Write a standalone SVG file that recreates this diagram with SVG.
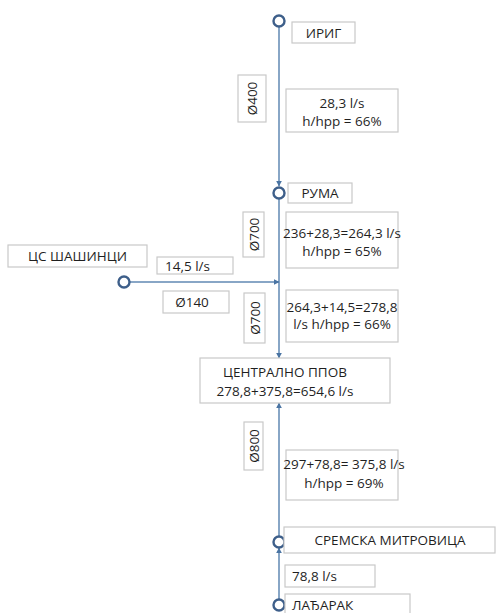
<svg xmlns="http://www.w3.org/2000/svg" width="496" height="613" viewBox="0 0 496 613">
<defs>
<marker id="arr" viewBox="0 0 10 10" refX="9" refY="5" markerWidth="6" markerHeight="6" markerUnits="userSpaceOnUse" orient="auto">
<path d="M0,0 L10,5 L0,10 z" fill="#4a74a3"/>
</marker>
<style>
.box{fill:#fff;stroke:#c9c9c9;stroke-width:1.2}
.t{font-family:"Open Sans","Liberation Sans",sans-serif;font-size:13.5px;fill:#1f1f1f;text-anchor:middle}
.pipe{stroke:#6088b3;stroke-width:1.5;fill:none}
.node{fill:#fff;stroke:#3e5f8a;stroke-width:2.4}
</style>
</defs>
<rect width="496" height="613" fill="#fff"/>
<g id="connectors">
<line class="pipe" x1="279" y1="27" x2="279" y2="186" marker-end="url(#arr)"/>
<line class="pipe" x1="279" y1="199" x2="279" y2="358" marker-end="url(#arr)"/>
<line class="pipe" x1="130" y1="282" x2="279" y2="282" marker-end="url(#arr)"/>
<line class="pipe" x1="279" y1="536" x2="279" y2="403" marker-end="url(#arr)"/>
<line class="pipe" x1="279" y1="599" x2="279" y2="548" marker-end="url(#arr)"/>
</g>
<g id="irig"><circle class="node" cx="279" cy="21" r="5.5"/><rect class="box" x="292" y="22" width="63" height="21"/><text class="t" x="323.5" y="37.5">ИРИГ</text></g>
<g id="d400"><rect class="box" x="238" y="75" width="28" height="47"/><text class="t" transform="translate(257 98.5) rotate(-90)">Ø400</text></g>
<g id="q1"><rect class="box" x="286" y="89" width="112" height="43"/><text class="t" x="342" y="107.5">28,3 l/s</text><text class="t" x="342" y="126">h/hpp = 66%</text></g>
<g id="ruma"><circle class="node" cx="279" cy="193" r="5.5"/><rect class="box" x="288" y="183" width="64" height="20"/><text class="t" x="320" y="198">РУМА</text></g>
<g id="d700a"><rect class="box" x="243" y="212" width="21" height="45"/><text class="t" transform="translate(258.5 234.5) rotate(-90)">Ø700</text></g>
<g id="q2"><rect class="box" x="286" y="212" width="112" height="56"/><text class="t" x="342" y="237.5">236+28,3=264,3 l/s</text><text class="t" x="342" y="255.5">h/hpp = 65%</text></g>
<g id="sasinci"><circle class="node" cx="124" cy="282" r="5.5"/><rect class="box" x="8" y="245" width="139" height="22"/><text class="t" x="77.5" y="261">ЦС ШАШИНЦИ</text></g>
<g id="q3"><rect class="box" x="157" y="257" width="76" height="17"/><text class="t" x="165" y="270.5" style="text-anchor:start">14,5 l/s</text></g>
<g id="d140"><rect class="box" x="163" y="291" width="66" height="22"/><text class="t" x="192" y="307">Ø140</text></g>
<g id="d700b"><rect class="box" x="244" y="293" width="21" height="50"/><text class="t" transform="translate(259.5 318) rotate(-90)">Ø700</text></g>
<g id="q4"><rect class="box" x="286" y="290" width="112" height="52"/><text class="t" x="342" y="311.5">264,3+14,5=278,8</text><text class="t" x="342" y="328.5">l/s h/hpp = 66%</text></g>
<g id="centralno"><rect class="box" x="200" y="358" width="190" height="45"/><text class="t" x="285" y="377">ЦЕНТРАЛНО ППОВ</text><text class="t" x="285" y="396">278,8+375,8=654,6 l/s</text></g>
<g id="d800"><rect class="box" x="244" y="422" width="19" height="48"/><text class="t" transform="translate(258.5 446) rotate(-90)">Ø800</text></g>
<g id="q5"><rect class="box" x="286" y="450" width="112" height="50"/><text class="t" x="344" y="468.5">297+78,8= 375,8 l/s</text><text class="t" x="344" y="487.5">h/hpp = 69%</text></g>
<g id="sremska"><circle class="node" cx="279" cy="542" r="5.5"/><rect class="box" x="284" y="527" width="211" height="26"/><text class="t" x="390" y="545">СРЕМСКА МИТРОВИЦА</text></g>
<g id="q6"><rect class="box" x="285" y="565" width="90" height="22"/><text class="t" x="292" y="581" style="text-anchor:start">78,8 l/s</text></g>
<g id="lajarak"><circle class="node" cx="279" cy="605" r="5.5"/><rect class="box" x="285" y="594" width="125" height="24"/><text class="t" x="292" y="610" style="text-anchor:start">ЛАЂАРАК</text></g>
</svg>
